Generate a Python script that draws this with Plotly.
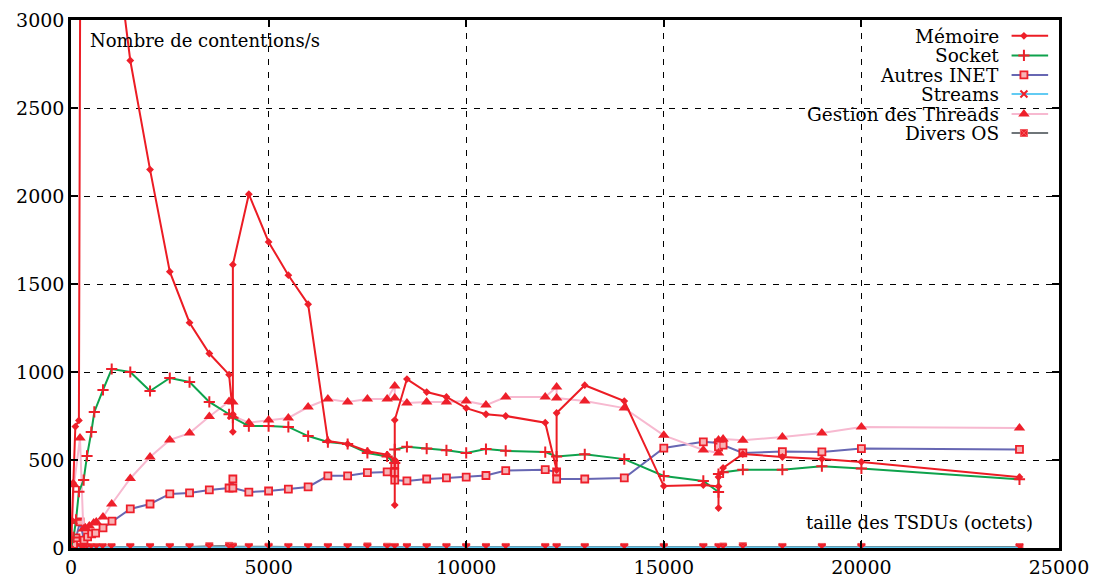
import plotly.graph_objects as go

# ---------------- data ----------------
mem_x = [0, 50, 110, 200, 256, 1500, 2000, 2500, 3000, 3500, 4000, 4096, 4096, 4096, 4500, 5000,
         5500, 6000, 6500, 7000, 7500, 8000, 8192, 8192, 8192, 8500, 9000, 9500, 10000, 10500,
         11000, 12000, 12288, 12288, 13000, 14000, 15000, 16000, 16384, 16384, 16384, 16500,
         17000, 18000, 19000, 20000, 24000]
mem_y = [0, 370, 690, 725, 5000, 2770, 2150, 1570, 1280, 1105, 985, 760, 660, 1610, 2010, 1739,
         1550, 1385, 608, 591, 550, 530, 500, 244, 727, 960, 886, 858, 795, 760,
         750, 712, 443, 767, 925, 835, 352, 358, 350, 227, 403, 455,
         534, 517, 506, 489, 403]

sock_x = [0, 64, 128, 200, 320, 405, 514, 590, 810, 1030, 1500, 2000, 2500, 3000, 3500, 4000,
          4096, 4500, 5000, 5500, 6000, 6500, 7000, 7500, 8000, 8192, 8192, 8500, 9000, 9500,
          10000, 10500, 11000, 12000, 12288, 13000, 14000, 15000, 16000, 16384, 16384, 16500,
          17000, 18000, 19000, 20000, 24000]
sock_y = [0, 60, 160, 320, 386, 523, 659, 773, 898, 1017, 1000, 892, 966, 943, 830, 760,
          740, 693, 693, 688, 636, 602, 591, 540, 520, 483, 560, 575, 565, 555,
          540, 562, 552, 545, 520, 532, 505, 409, 381, 318, 420, 430,
          445, 445, 465, 452, 390]

inet_x = [0, 64, 127, 228, 329, 420, 522, 623, 810, 1037, 1500, 2000, 2500, 3000, 3500, 4000,
          4096, 4096, 4500, 5000, 5500, 6000, 6500, 7000, 7500, 8000, 8192, 8192, 8192, 8500,
          9000, 9500, 10000, 10500, 11000, 12000, 12288, 12288, 13000, 14000, 15000, 16000,
          16384, 16384, 16500, 17000, 18000, 19000, 20000, 24000]
inet_y = [0, 20, 57, 148, 45, 63, 80, 85, 114, 153, 222, 250, 307, 313, 330, 341,
          392, 341, 318, 324, 335, 347, 410, 410, 428, 432, 475, 430, 386, 381,
          392, 398, 403, 412, 440, 445, 432, 392, 392, 398, 568, 603,
          597, 574, 585, 540, 548, 546, 565, 560]

streams_x = [0, 32, 64, 128, 256, 320, 400, 512, 640, 800, 1024, 1500, 2000, 2500, 3000, 3500,
             4000, 4096, 4500, 5000, 5500, 6000, 6500, 7000, 7500, 8000, 8192, 8500, 9000, 9500,
             10000, 10500, 11000, 12000, 12288, 13000, 14000, 15000, 16000, 16384, 16500, 17000,
             18000, 19000, 20000, 24000]
streams_y = [0, 2, 2, 3, 3, 2, 2, 2, 2, 2, 2, 2, 2, 2, 2, 3,
             3, 2, 2, 2, 2, 2, 2, 2, 3, 2, 2, 2, 2, 2,
             2, 2, 2, 2, 2, 2, 2, 2, 2, 2, 2, 3,
             2, 2, 2, 2]

thr_x = [0, 32, 76, 228, 311, 362, 463, 574, 640, 810, 1030, 1500, 2000, 2500, 3000, 3500, 4000,
         4096, 4096, 4500, 5000, 5500, 6000, 6500, 7000, 7500, 8000, 8192, 8192, 8500, 9000,
         9500, 10000, 10500, 11000, 12000, 12288, 12288, 13000, 14000, 15000, 16000, 16384,
         16384, 16500, 17000, 18000, 19000, 20000, 24000]
thr_y = [0, 150, 360, 625, 108, 115, 125, 142, 148, 176, 250, 395, 517, 614, 653, 747, 832,
         830, 750, 712, 727, 739, 801, 846, 830, 846, 846, 920, 852, 824, 830,
         830, 835, 812, 858, 858, 915, 852, 835, 795, 640, 557, 540,
         614, 619, 612, 631, 653, 688, 682]

os_x = streams_x
os_y = [0, 4, 5, 5, 6, 5, 5, 5, 5, 5, 5, 6, 6, 6, 6, 10,
        12, 8, 6, 7, 6, 6, 6, 6, 9, 7, 6, 6, 6, 6,
        6, 6, 6, 6, 6, 6, 6, 6, 6, 6, 8, 10,
        6, 6, 6, 5]

names = ["Mémoire", "Socket", "Autres INET", "Streams", "Gestion des Threads", "Divers OS"]

x_ticks = [0, 5000, 10000, 15000, 20000, 25000]
y_ticks = [0, 500, 1000, 1500, 2000, 2500, 3000]

# ---------------- style ----------------
RED = "#ee1f2a"
FONT = "DejaVu Serif, Liberation Serif, Times New Roman, serif"
line_colors = ["#ec1c24", "#0ea24c", "#6767b3", "#62cbf3", "#f7b9d0", "#6f7579"]
marker_styles = [
    dict(symbol="diamond", size=6, color=RED),
    dict(symbol="cross-thin", size=8, color=RED, line=dict(color=RED, width=2)),
    dict(symbol="square", size=7, color="#f7b3b5", line=dict(color=RED, width=1.8)),
    dict(symbol="x-thin", size=7, color=RED, line=dict(color=RED, width=2)),
    dict(symbol="triangle-up", size=10, color=RED),
    dict(symbol="square-x", size=7, color=RED, line=dict(color="#f25a60", width=1)),
]
series = [(mem_x, mem_y), (sock_x, sock_y), (inet_x, inet_y),
          (streams_x, streams_y), (thr_x, thr_y), (os_x, os_y)]
draw_order = [5, 3, 2, 4, 1, 0]

fig = go.Figure()
for i in draw_order:
    xs, ys = series[i]
    fig.add_trace(go.Scatter(
        x=xs, y=ys, mode="lines+markers", name=names[i],
        line=dict(color=line_colors[i], width=2),
        marker=marker_styles[i], showlegend=False, cliponaxis=True,
        xaxis="x", yaxis="y"))

# ---------------- legend (text left of sample, like gnuplot) ----------------
leg_y = [0.970, 0.933, 0.896, 0.860, 0.822, 0.786]
for i, nm in enumerate(names):
    fig.add_trace(go.Scatter(
        x=[0.952, 0.9705, 0.989], y=[leg_y[i]] * 3, mode="lines",
        line=dict(color=line_colors[i], width=2), showlegend=False,
        hoverinfo="skip", xaxis="x2", yaxis="y2", cliponaxis=False))
    fig.add_trace(go.Scatter(
        x=[0.9645], y=[leg_y[i]], mode="markers",
        marker=marker_styles[i], showlegend=False,
        hoverinfo="skip", xaxis="x2", yaxis="y2", cliponaxis=False))
    fig.add_annotation(x=0.940, y=leg_y[i], xref="paper", yref="paper",
                       text=nm, showarrow=False, xanchor="right", yanchor="middle",
                       borderpad=0, height=18, valign="middle",
                       font=dict(family=FONT, size=18.5, color="black"))

fig.add_annotation(x=0.017, y=0.985, xref="paper", yref="paper",
                   text="Nombre de contentions/s", showarrow=False,
                   xanchor="left", yanchor="top",
                   font=dict(family=FONT, size=18, color="black"))
fig.add_annotation(x=0.976, y=0.025, xref="paper", yref="paper",
                   text="taille des TSDUs (octets)", showarrow=False,
                   xanchor="right", yanchor="bottom",
                   font=dict(family=FONT, size=18, color="black"))

axis_common = dict(
    showline=True, linecolor="black", linewidth=2.5, mirror="ticks",
    ticks="inside", ticklen=7, tickwidth=2, tickcolor="black",
    showgrid=True, gridcolor="black", gridwidth=1, griddash="6px,7px",
    zeroline=False, automargin=False,
    tickfont=dict(family=FONT, size=19, color="black"),
)

# page body has an 8px margin: size the figure so the plot area lands where the reference's does
fig.update_layout(
    width=1089, height=573,
    margin=dict(l=63, r=38, t=12, b=33),
    paper_bgcolor="white", plot_bgcolor="white",
    showlegend=False,
    font=dict(family=FONT),
    xaxis=dict(range=[0, 25000], tickvals=x_ticks, ticktext=[str(v) for v in x_ticks],
               **axis_common),
    yaxis=dict(range=[0, 3000], tickvals=y_ticks, ticktext=[str(v) for v in y_ticks],
               **axis_common),
    xaxis2=dict(range=[0, 1], overlaying="x", visible=False, fixedrange=True),
    yaxis2=dict(range=[0, 1], overlaying="y", visible=False, fixedrange=True),
)

fig.write_html("out.html")
